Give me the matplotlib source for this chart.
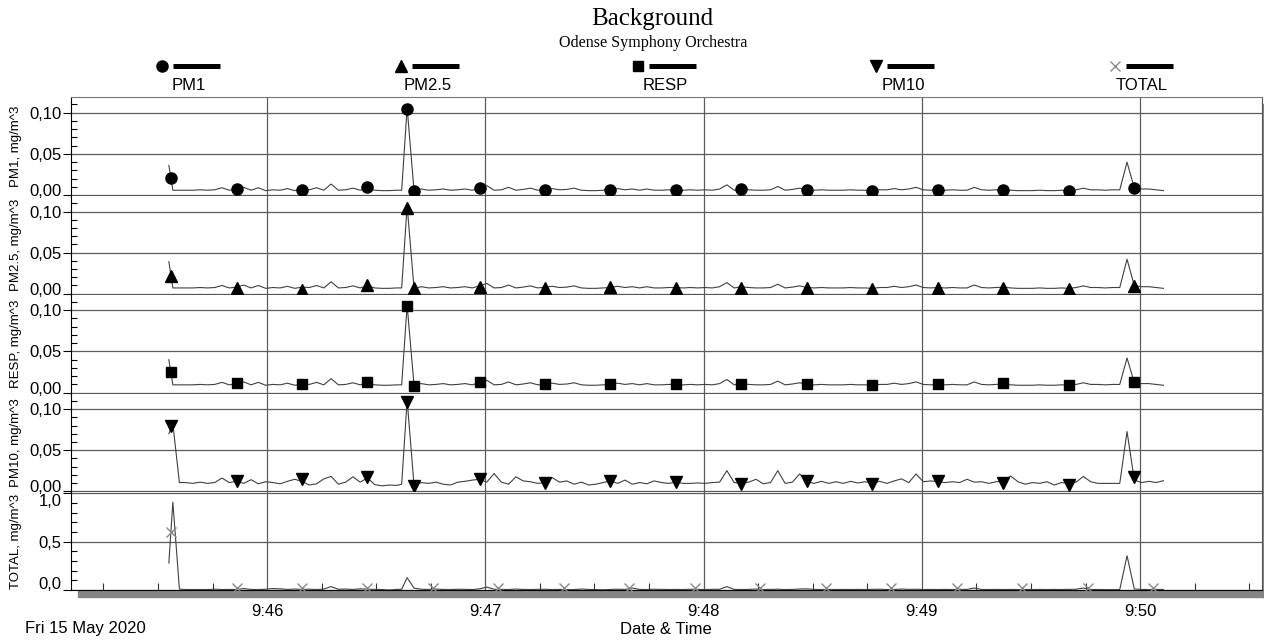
import numpy as np
import matplotlib
matplotlib.use("Agg")
import matplotlib.pyplot as plt
import matplotlib.transforms as mtransforms
from matplotlib.ticker import FixedLocator, MultipleLocator
from matplotlib.patches import Rectangle
from matplotlib.lines import Line2D

plt.rcParams['font.family'] = ['Liberation Sans', 'DejaVu Sans']

# ---------------------------------------------------------------- data
# sample time stamps, seconds after 9:45:00
t_head = [33.0, 34.1, 35.9]
t_seg1 = 37.6 + 2.0 * np.arange(30)
t_peak = [97.0, 98.5]
t_seg2 = 100.4 + 2.0 * np.arange(104)
times = np.concatenate([t_head, t_seg1, t_peak, t_seg2])

pm1 = [
    0.036, 0.006, 0.006,
    0.006, 0.006, 0.0065, 0.006, 0.0065, 0.009, 0.006, 0.007, 0.0095, 0.006,
    0.009, 0.0055, 0.0065, 0.006, 0.008, 0.0055, 0.007, 0.0065, 0.009, 0.006,
    0.0135, 0.006, 0.0065, 0.0085, 0.006, 0.0085, 0.006, 0.0055, 0.0055, 0.006,
    0.006, 0.106,
    0.0055, 0.0075, 0.006, 0.0065, 0.0075, 0.006, 0.0065, 0.0075, 0.006, 0.0085,
    0.0115, 0.006, 0.0065, 0.0095, 0.006, 0.007, 0.0085, 0.006, 0.007, 0.008,
    0.0065, 0.007, 0.0085, 0.006, 0.0055, 0.0055, 0.006, 0.0065, 0.008, 0.0065,
    0.0075, 0.006, 0.0075, 0.006, 0.006, 0.0065, 0.0065, 0.006, 0.0065, 0.006,
    0.0065, 0.006, 0.0075, 0.0125, 0.006, 0.0075, 0.0065, 0.006, 0.006, 0.0065,
    0.0105, 0.006, 0.007, 0.0085, 0.0065, 0.006, 0.0065, 0.006, 0.006, 0.006,
    0.0065, 0.006, 0.006, 0.0055, 0.0065, 0.0065, 0.008, 0.0065, 0.0075, 0.0095,
    0.0065, 0.006, 0.0065, 0.006, 0.0065, 0.006, 0.006, 0.0095, 0.0065, 0.006,
    0.0065, 0.007, 0.006, 0.0055, 0.0055, 0.0055, 0.006, 0.0055, 0.0055, 0.006,
    0.0055, 0.0065, 0.0085, 0.0065, 0.0065, 0.006, 0.0065, 0.0065, 0.040, 0.0085,
    0.0075, 0.0075, 0.0065, 0.0055,
]

pm25 = [
    0.039, 0.007, 0.007,
    0.007, 0.007, 0.0075, 0.007, 0.0075, 0.010, 0.007, 0.008, 0.0105, 0.007,
    0.010, 0.0065, 0.0075, 0.007, 0.009, 0.0065, 0.008, 0.0075, 0.010, 0.007,
    0.0145, 0.007, 0.0075, 0.0095, 0.007, 0.0095, 0.007, 0.0065, 0.0065, 0.007,
    0.007, 0.107,
    0.0065, 0.0085, 0.007, 0.0075, 0.0085, 0.007, 0.0075, 0.0085, 0.007, 0.0095,
    0.0125, 0.007, 0.0075, 0.0105, 0.007, 0.008, 0.0095, 0.007, 0.008, 0.009,
    0.0075, 0.008, 0.0095, 0.007, 0.0065, 0.0065, 0.007, 0.0075, 0.009, 0.0075,
    0.0085, 0.007, 0.0085, 0.007, 0.007, 0.0075, 0.0075, 0.007, 0.0075, 0.007,
    0.0075, 0.007, 0.0085, 0.0135, 0.007, 0.0085, 0.0075, 0.007, 0.007, 0.0075,
    0.0115, 0.007, 0.008, 0.0095, 0.0075, 0.007, 0.0075, 0.007, 0.007, 0.007,
    0.0075, 0.007, 0.007, 0.0065, 0.0075, 0.0075, 0.009, 0.0075, 0.0085, 0.0105,
    0.0075, 0.007, 0.0075, 0.007, 0.0075, 0.007, 0.007, 0.0105, 0.0075, 0.007,
    0.0075, 0.008, 0.007, 0.0065, 0.0065, 0.0065, 0.007, 0.0065, 0.0065, 0.007,
    0.0065, 0.0075, 0.0095, 0.0075, 0.0075, 0.007, 0.0075, 0.0075, 0.042, 0.0095,
    0.0085, 0.0085, 0.0075, 0.0065,
]

resp = [
    0.040, 0.0095, 0.0095,
    0.0095, 0.0095, 0.010, 0.0095, 0.010, 0.0125, 0.0095, 0.0105, 0.013, 0.0095,
    0.0125, 0.009, 0.010, 0.0095, 0.0115, 0.009, 0.0105, 0.010, 0.0125, 0.0095,
    0.017, 0.0095, 0.010, 0.012, 0.0095, 0.012, 0.0095, 0.009, 0.009, 0.0095,
    0.0095, 0.106,
    0.009, 0.011, 0.0095, 0.010, 0.011, 0.0095, 0.010, 0.011, 0.0095, 0.012,
    0.015, 0.0095, 0.010, 0.013, 0.0095, 0.0105, 0.012, 0.0095, 0.0105, 0.0115,
    0.010, 0.0105, 0.012, 0.0095, 0.009, 0.009, 0.0095, 0.010, 0.0115, 0.010,
    0.011, 0.0095, 0.011, 0.0095, 0.0095, 0.010, 0.010, 0.0095, 0.010, 0.0095,
    0.010, 0.0095, 0.011, 0.016, 0.0095, 0.011, 0.010, 0.0095, 0.0095, 0.010,
    0.014, 0.0095, 0.0105, 0.012, 0.010, 0.0095, 0.010, 0.0095, 0.0095, 0.0095,
    0.010, 0.0095, 0.0095, 0.009, 0.010, 0.010, 0.0115, 0.010, 0.011, 0.013,
    0.010, 0.0095, 0.010, 0.0095, 0.010, 0.0095, 0.0095, 0.013, 0.010, 0.0095,
    0.010, 0.0105, 0.0095, 0.009, 0.009, 0.009, 0.0095, 0.009, 0.009, 0.0095,
    0.009, 0.010, 0.012, 0.010, 0.010, 0.0095, 0.010, 0.010, 0.042, 0.012,
    0.011, 0.011, 0.010, 0.009,
]

pm10 = [
    0.070, 0.082, 0.0105,
    0.0105, 0.0095, 0.011, 0.0095, 0.0105, 0.016, 0.0105, 0.012, 0.0095, 0.014,
    0.009, 0.0115, 0.0105, 0.009, 0.012, 0.0145, 0.012, 0.0075, 0.009, 0.015,
    0.018, 0.0085, 0.011, 0.0175, 0.011, 0.016, 0.008, 0.0065, 0.0075, 0.007,
    0.0085, 0.111,
    0.007, 0.0105, 0.0095, 0.011, 0.0085, 0.0075, 0.011, 0.012, 0.0135, 0.0145,
    0.011, 0.0215, 0.011, 0.0085, 0.0175, 0.0125, 0.0115, 0.0095, 0.0105, 0.0165,
    0.011, 0.0125, 0.0085, 0.011, 0.0075, 0.0085, 0.0105, 0.0125, 0.0095, 0.0135,
    0.0085, 0.0105, 0.009, 0.0125, 0.0105, 0.0095, 0.011, 0.0095, 0.0095, 0.010,
    0.0095, 0.0105, 0.011, 0.025, 0.0105, 0.0095, 0.011, 0.0145, 0.009, 0.0105,
    0.025, 0.0095, 0.011, 0.021, 0.0115, 0.0095, 0.012, 0.0095, 0.0115, 0.0095,
    0.012, 0.010, 0.0115, 0.0095, 0.012, 0.0095, 0.0125, 0.015, 0.0105, 0.021,
    0.0115, 0.0125, 0.0115, 0.0105, 0.0115, 0.0105, 0.0145, 0.011, 0.0115, 0.0095,
    0.0115, 0.012, 0.0185, 0.0115, 0.0085, 0.0105, 0.0095, 0.0115, 0.0075, 0.0105,
    0.0095, 0.011, 0.018, 0.0115, 0.0095, 0.0095, 0.0095, 0.0095, 0.0727, 0.0135,
    0.0105, 0.012, 0.0105, 0.0128,
]

total = [
    0.28, 0.91, 0.01,
    0.005, 0.005, 0.006, 0.005, 0.008, 0.005, 0.006, 0.005, 0.015, 0.006,
    0.005, 0.008, 0.015, 0.012, 0.006, 0.010, 0.006, 0.008, 0.005, 0.010,
    0.035, 0.008, 0.010, 0.006, 0.012, 0.008, 0.006, 0.005, 0.0, 0.006,
    0.008, 0.127,
    0.02, 0.008, 0.006, 0.01, 0.006, 0.005, 0.008, 0.006, 0.005, 0.012,
    0.03, 0.008, 0.006, 0.005, 0.01, 0.006, 0.005, 0.006, 0.008, 0.005,
    0.006, 0.004, 0.005, 0.01, 0.006, 0.005, 0.002, 0.006, 0.008, 0.006,
    0.02, 0.006, 0.005, 0.008, 0.006, 0.005, 0.006, 0.005, 0.008, 0.006,
    0.005, 0.006, 0.008, 0.035, 0.006, 0.005, 0.006, 0.01, 0.005, 0.006,
    0.008, 0.005, 0.006, 0.01, 0.012, 0.006, 0.005, 0.006, 0.005, 0.006,
    0.005, 0.006, 0.005, 0.006, 0.008, 0.005, 0.006, 0.01, 0.006, 0.008,
    0.005, 0.006, 0.005, 0.006, 0.005, 0.008, 0.006, 0.02, 0.006, 0.005,
    0.006, 0.005, 0.006, 0.005, 0.006, 0.005, 0.006, 0.005, 0.006, 0.005,
    0.006, 0.008, 0.02, 0.006, 0.005, 0.003, 0.004, 0.005, 0.355, 0.01,
    0.006, 0.005, 0.006, 0.005,
]

# marker (symbol) samples
pm_marker_t = [33.6, 51.6, 69.6, 87.6, 98.5, 100.4, 118.4, 136.4, 154.4,
               172.4, 190.4, 208.4, 226.4, 244.4, 262.4, 280.4, 298.4]
pm1_marker_v = [0.021, 0.0076, 0.0064, 0.0096, 0.1045, 0.0056, 0.0084, 0.0068,
                0.0068, 0.0064, 0.0076, 0.0064, 0.0056, 0.0064, 0.0068, 0.0056, 0.0084]
pm25_marker_v = [0.021, 0.0075, 0.005, 0.0105, 0.104, 0.0065, 0.0085, 0.0075,
                 0.008, 0.0075, 0.007, 0.0065, 0.0055, 0.0075, 0.0075, 0.0055, 0.0095]
resp_marker_v = [0.025, 0.012, 0.010, 0.0125, 0.105, 0.0075, 0.0125, 0.011,
                 0.011, 0.0105, 0.011, 0.0105, 0.0095, 0.011, 0.0115, 0.0095, 0.0125]
pm10_marker_v = [0.079, 0.0128, 0.0153, 0.0175, 0.109, 0.0066, 0.0153, 0.0103,
                 0.0128, 0.0115, 0.009, 0.0128, 0.009, 0.0128, 0.0103, 0.0078, 0.0177]
total_marker_t = [33.6, 51.6, 69.6, 87.6, 105.6, 123.6, 141.6, 159.6,
                  177.6, 195.6, 213.6, 231.6, 249.6, 267.6, 285.6, 303.6]
total_marker_v = [0.60, 0.025, 0.025, 0.025, 0.025, 0.025, 0.025, 0.025,
                  0.025, 0.025, 0.025, 0.025, 0.025, 0.025, 0.025, 0.025]

channels = ["PM1", "PM2.5", "RESP", "PM10", "TOTAL"]
channel_units = "mg/m^3"
minute_ticks = [60, 120, 180, 240, 300]
minute_labels = ["9:46", "9:47", "9:48", "9:49", "9:50"]
pm_ticks = [0.0, 0.05, 0.10]
pm_ticklabels = ["0,00", "0,05", "0,10"]
total_ticks = [0.0, 0.5, 1.0]
total_ticklabels = ["0,0", "0,5", "1,0"]
date_text = "Fri 15 May 2020"
x_title = "Date & Time"
title = "Background"
subtitle = "Odense Symphony Orchestra"

# ---------------------------------------------------------------- layout
W, H = 1264, 640
fig = plt.figure(figsize=(W / 100, H / 100), dpi=100)
fig.patch.set_facecolor("white")


def fx(px):
    return px / W


def fy(py):
    return 1 - py / H


frame_left, frame_right = 71, 1262
edges = [97, 196, 294.5, 393.5, 492, 590]

series = [
    (pm1, "o", pm_marker_t, pm1_marker_v, "black"),
    (pm25, "^", pm_marker_t, pm25_marker_v, "black"),
    (resp, "s", pm_marker_t, resp_marker_v, "black"),
    (pm10, "v", pm_marker_t, pm10_marker_v, "black"),
    (total, "x", total_marker_t, total_marker_v, "#8a8a8a"),
]

grid_col = "#5c5c5c"
line_col = "#404040"

# shadow of the plot frame (drawn beneath the panels)
fig.patches.append(Rectangle((fx(78), fy(597)), fx(1270 - 78), 7 / H,
                             transform=fig.transFigure, color="#858585",
                             zorder=-1))
fig.patches.append(Rectangle((fx(frame_right), fy(597)), fx(8), (597 - 104) / H,
                             transform=fig.transFigure, color="#858585",
                             zorder=-1))

for i, (vals, mk, mt, mv, mcol) in enumerate(series):
    top, bot = edges[i], edges[i + 1]
    ax = fig.add_axes([fx(frame_left), fy(bot), fx(frame_right - frame_left),
                       (bot - top) / H])
    ax.plot(times, vals, color=line_col, lw=0.8, zorder=3)
    if mk == "x":
        ax.plot(mt, mv, ls="none", marker=mk, ms=6.5, mew=1.0, color=mcol,
                zorder=4, clip_on=False)
    else:
        ms = 7.0 if mk == "s" else 8.0
        ax.plot(mt, mv, ls="none", marker=mk, ms=ms, color=mcol, zorder=4,
                clip_on=False)

    ax.set_xlim(6.1, 333.5)
    ax.xaxis.set_major_locator(FixedLocator(minute_ticks))
    last = i == len(series) - 1
    if last:
        ax.set_ylim(0.0, 1.015)
        ax.set_yticks(total_ticks, total_ticklabels)
        ax.yaxis.set_minor_locator(MultipleLocator(0.1))
        ax.set_xticks(minute_ticks, minute_labels)
        ax.xaxis.set_minor_locator(MultipleLocator(15))
        ax.tick_params(axis="x", which="major", length=0, pad=10, labelsize=12)
        ax.tick_params(axis="x", which="minor", direction="in", length=5,
                       width=0.8, color="#333333")
        shifts = {0: 7, 2: -7}
    else:
        ax.set_ylim(-0.001, 0.119)
        ax.set_yticks(pm_ticks, pm_ticklabels)
        ax.yaxis.set_minor_locator(MultipleLocator(0.01))
        ax.tick_params(axis="x", which="both", length=0, labelbottom=False)
        shifts = {0: 5}
    ax.tick_params(axis="y", which="major", direction="out", length=5.8,
                   width=0.8, pad=1.0, labelsize=12)
    ax.tick_params(axis="y", which="minor", direction="in", length=4.3,
                   width=0.8)
    for k, lab in enumerate(ax.get_yticklabels()):
        if k in shifts:
            off = mtransforms.ScaledTranslation(0, shifts[k] / 100,
                                                fig.dpi_scale_trans)
            lab.set_transform(lab.get_transform() + off)

    ax.grid(True, which="major", axis="both", color=grid_col, lw=0.9)
    ax.set_axisbelow(True)
    for s in ax.spines.values():
        s.set_color("black")
        s.set_linewidth(0.8)
    ax.spines["right"].set_color("#555555")
    if i > 0:
        ax.spines["top"].set_visible(False)
    else:
        ax.spines["top"].set_color("#777777")

    fig.text(fx(16), fy((top + bot) / 2), f"{channels[i]}, {channel_units}",
             rotation=90, ha="center", va="center", fontsize=9.5)

# titles
fig.text(fx(652), fy(19), title, ha="center", va="center",
         family="Liberation Serif", fontsize=18)
fig.text(fx(653), fy(43), subtitle, ha="center", va="center",
         family="Liberation Serif", fontsize=11.6)

# bottom labels
fig.text(fx(25), fy(629), date_text, ha="left", va="center", fontsize=12)
fig.text(fx(666), fy(629), x_title, ha="center", va="center", fontsize=12)

# legend row
leg = fig.add_axes([0, 0, 1, 1], facecolor="none")
leg.set_xlim(0, W)
leg.set_ylim(H, 0)
leg.axis("off")
leg_x = [162, 401, 638, 876, 1115]
for name, (vals, mk, mt, mv, mcol), x0 in zip(channels, series, leg_x):
    if mk == "x":
        leg.add_line(Line2D([x0], [66], ls="none", marker=mk, ms=6.5, mew=1.0,
                            color=mcol))
    else:
        leg.add_line(Line2D([x0], [66], ls="none", marker=mk,
                            ms=7.0 if mk == "s" else 8.0, color=mcol))
    leg.add_line(Line2D([x0 + 11, x0 + 58], [66, 66], color="black", lw=3.6,
                        solid_capstyle="butt"))
    leg.text(x0 + 27, 85, name, ha="center", va="center", fontsize=12)

fig.savefig("out.png", dpi=100)
